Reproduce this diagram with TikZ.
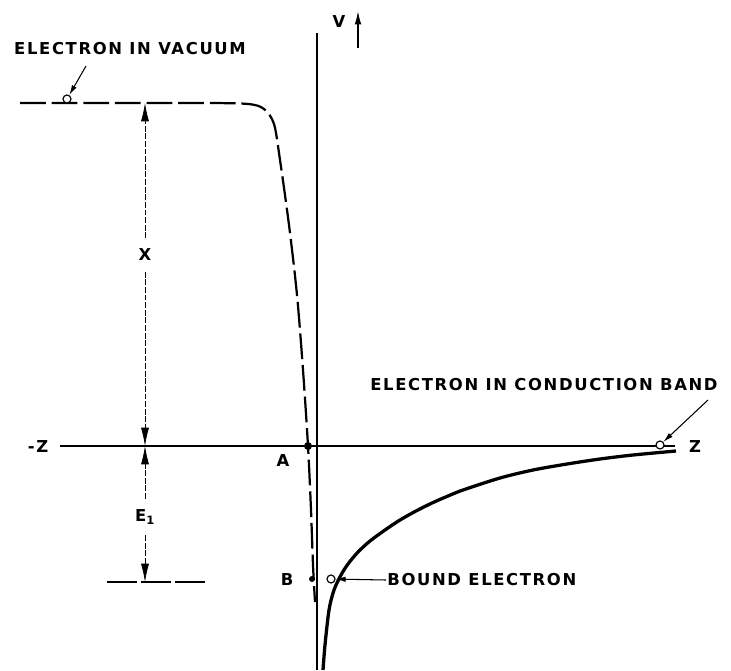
\documentclass[tikz,border=0pt]{standalone}
\usepackage{fontspec}
\setmainfont{DejaVu Sans}
\newfontfamily\leroy{DejaVu Sans}[LetterSpace=10]
\usetikzlibrary{arrows.meta}

\begin{document}
\begin{tikzpicture}[x=0.03cm,y=-0.03cm,
  lbl/.style={font=\leroy\bfseries\fontsize{14}{16}\selectfont,inner sep=1pt},
  dimlbl/.style={lbl,inner sep=9pt},
  dimline/.style={line width=0.6pt,dash pattern=on 5pt off 1.5pt,-{Latex[length=5.5mm,width=2.4mm]}},
  leader/.style={line width=0.9pt,-{Latex[length=3mm,width=1.6mm]}},
  electron/.style={circle,draw,fill=white,line width=1pt,inner sep=0pt,minimum size=0.24cm},
  dotmark/.style={circle,fill,inner sep=0pt,minimum size=0.24cm}]

\useasboundingbox (0,0) rectangle (731,670);

% axes
\coordinate (vtop) at (317,33);
\coordinate (vbot) at (317,670);
\coordinate (zl) at (60,446);
\coordinate (zr) at (675,446);
\draw[line width=2.5pt] (vtop) -- (vbot);
\draw[line width=1.7pt] (zl) -- (zr);
\node[lbl] (mz) at (38,447) {-Z};
\node[lbl] (pz) at (695,447) {Z};
\node[lbl] (v) at (339,22) {V};
\coordinate (vs) at (358,48);
\coordinate (vh) at (358,11);
\draw[line width=1.2pt,-{Latex[length=4mm,width=2mm]}] (vs) -- (vh);

% vacuum level, dashed
\draw[line width=1.9pt,dash pattern=on 22pt off 5pt]
  plot[smooth,tension=0.5] coordinates {(20,103) (200,103) (248,104) (264,109) (274,124)
  (280,160) (289,225) (297,295) (303,370) (308,446) (311,510) (313,565) (315,602)};

% potential curve
\draw[line width=2.8pt]
  plot[smooth,tension=0.5] coordinates {(323,670) (325,645) (329,610) (334,590) (341,575)
  (348,564) (358,552) (370,541) (385,530) (400,520) (416,511) (432,503) (448,496)
  (463,490) (500,478) (533,470) (567,464) (600,459) (633,455) (676,451)};

% points A and B
\node[dotmark] (A) at (308,446) {};
\node[lbl] (alab) at (283,461) {A};
\node[dotmark,minimum size=0.18cm] (B) at (312,579) {};
\node[lbl] (blab) at (287,580) {B};

% electrons
\node[electron] (evac) at (67,99) {};
\node[lbl] (tvac) at (130,49) {ELECTRON IN VACUUM};
\coordinate (pvac) at (86,66);
\draw[leader] (pvac) -- (evac);

\node[electron] (econd) at (660,445) {};
\node[lbl] (tcond) at (544,385) {ELECTRON IN CONDUCTION BAND};
\coordinate (pcond) at (708,400);
\draw[leader] (pcond) -- (econd);

\node[electron] (ebound) at (331,579) {};
\node[lbl,anchor=west] (tbound) at (386,580) {BOUND ELECTRON};
\draw[leader] (tbound.west) -- (ebound);

% dimensions
\coordinate (xtop) at (145,103);
\coordinate (xbot) at (145,446);
\node[dimlbl] (X) at (145,255) {X};
\draw[dimline] (X) -- (xtop);
\draw[dimline] (X) -- (xbot);

\coordinate (etop) at (145,446);
\coordinate (ebot) at (145,582);
\node[dimlbl] (E1) at (145,517) {E\textsubscript{1}};
\draw[dimline] (E1) -- (etop);
\draw[dimline] (E1) -- (ebot);

\coordinate (la) at (107,582);
\coordinate (lb) at (208,582);
\draw[line width=1pt,dash pattern=on 26pt off 3pt] (la) -- (lb);

\end{tikzpicture}
\end{document}
